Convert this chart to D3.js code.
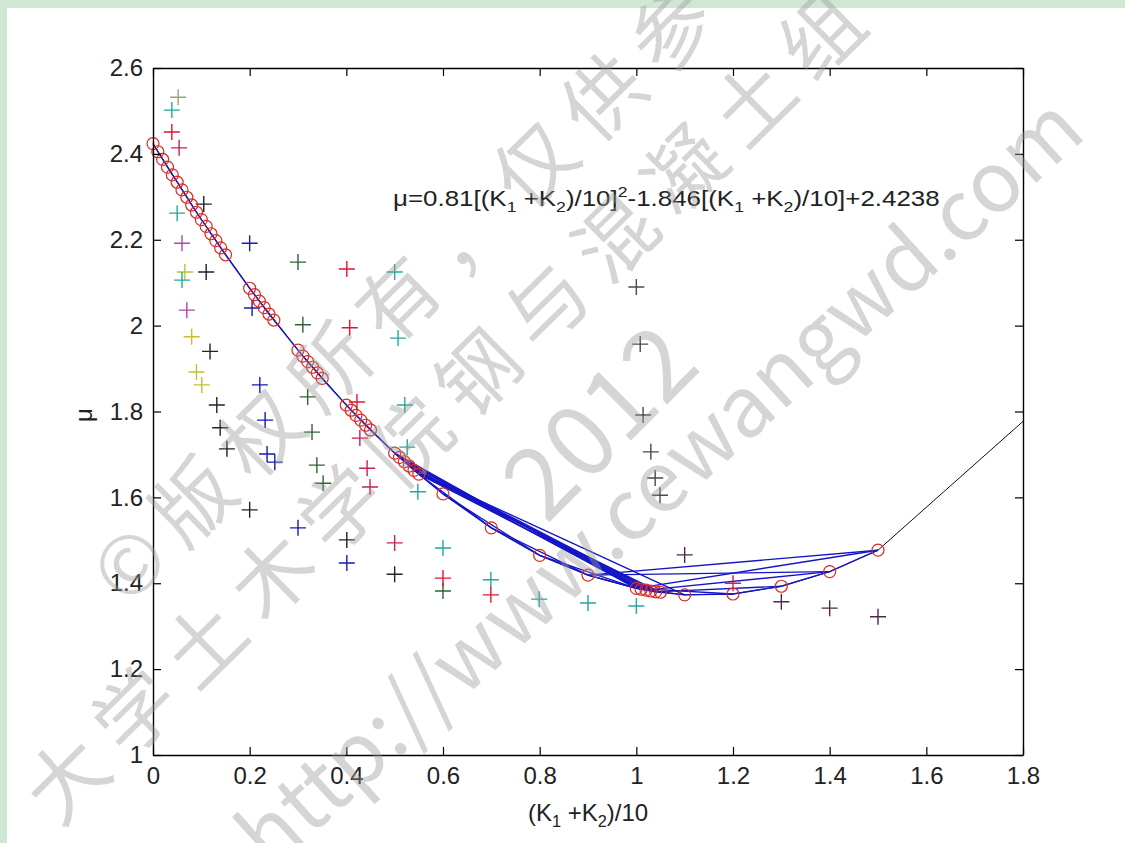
<!DOCTYPE html>
<html>
<head>
<meta charset="utf-8">
<script src="https://cdn.jsdelivr.net/npm/d3@7"></script>
<style>
    html, body { margin: 0; padding: 0; background: #fff; }
    svg { display: block; }
    text { font-family: "Liberation Sans", Arial, sans-serif; }
</style>
</head>
<body>
<svg id="chart" width="1125" height="843"></svg>
<script>
// tick labels
var xTicks = [0, 0.2, 0.4, 0.6, 0.8, 1, 1.2, 1.4, 1.6, 1.8];
var xTickLabels = ["0", "0.2", "0.4", "0.6", "0.8", "1", "1.2", "1.4", "1.6", "1.8"];
var yTicks = [1, 1.2, 1.4, 1.6, 1.8, 2, 2.2, 2.4, 2.6];
var yTickLabels = ["1", "1.2", "1.4", "1.6", "1.8", "2", "2.2", "2.4", "2.6"];

// fitted curve (black line)
var fitX = [0, 0.1, 0.2, 0.3, 0.4, 0.5, 0.6, 0.7, 0.8, 0.9, 1.0, 1.1, 1.2, 1.3, 1.4, 1.5, 1.8];
var fitY = [2.424, 2.247, 2.087, 1.943, 1.815, 1.703, 1.608, 1.529, 1.465, 1.419, 1.388, 1.373, 1.375, 1.393, 1.427, 1.477, 1.777];

// red circles on the curve
var circleX = [0, 0.01, 0.02, 0.03, 0.04, 0.05, 0.06, 0.07, 0.08, 0.09, 0.10, 0.11, 0.12, 0.13, 0.14, 0.15,
    0.20, 0.21, 0.22, 0.23, 0.24, 0.25,
    0.30, 0.31, 0.32, 0.33, 0.34, 0.35,
    0.40, 0.41, 0.42, 0.43, 0.44, 0.45,
    0.50, 0.51, 0.52, 0.53, 0.54, 0.55,
    0.60, 0.70, 0.80, 0.90,
    1.00, 1.01, 1.02, 1.03, 1.04, 1.05,
    1.10, 1.20, 1.30, 1.40, 1.50];
var circleY = [2.424, 2.405, 2.387, 2.369, 2.351, 2.334, 2.316, 2.299, 2.281, 2.264, 2.247, 2.231, 2.214, 2.198, 2.181, 2.165,
    2.087, 2.072, 2.057, 2.042, 2.027, 2.013,
    1.943, 1.929, 1.916, 1.903, 1.890, 1.877,
    1.815, 1.803, 1.791, 1.780, 1.768, 1.757,
    1.703, 1.693, 1.683, 1.673, 1.663, 1.654,
    1.608, 1.529, 1.465, 1.419,
    1.388, 1.386, 1.384, 1.382, 1.380, 1.379,
    1.373, 1.375, 1.393, 1.427, 1.477];

// blue polylines, as lists of circle x values
var blueRoutes = [
    circleX,
    [0.50, 1.00], [0.51, 1.01], [0.52, 1.02], [0.53, 1.03], [0.54, 1.04], [0.55, 1.05],
    [0.53, 1.00], [0.55, 1.02], [0.52, 1.04], [0.54, 1.01],
    [0.55, 0.70, 0.90, 1.00], [0.60, 0.80, 1.00], [0.54, 1.10],
    [0.90, 1.50], [0.90, 1.40], [1.00, 1.50], [1.02, 1.40], [1.04, 1.30], [1.00, 1.20]
];

// "+" markers by colour
var tealPts = [[0.039, 2.502], [0.05, 2.262], [0.06, 2.106], [0.5, 2.125], [0.507, 1.971], [0.521, 1.815],
    [0.526, 1.717], [0.548, 1.613], [0.6, 1.482], [0.699, 1.408], [0.799, 1.363], [0.9, 1.354], [1.0, 1.347]];
var redPts = [[0.039, 2.451], [0.401, 2.132], [0.407, 1.995], [0.422, 1.822], [0.6, 1.412], [0.699, 1.373]];
var crimsonPts = [[0.054, 2.414], [0.428, 1.738], [0.443, 1.668], [0.449, 1.624], [0.5, 1.494], [1.2, 1.40]];
var purplePts = [[0.06, 2.192], [0.07, 2.036]];
var plumPts = [[1.1, 1.466], [1.3, 1.357], [1.4, 1.342], [1.5, 1.322]];
var yellowPts = [[0.066, 2.125], [0.08, 1.974], [0.09, 1.892], [0.101, 1.862]];
var olivePts = [[0.052, 2.532]];
var blackPts = [[0.105, 2.283], [0.11, 2.125], [0.118, 1.94], [0.132, 1.815], [0.139, 1.762], [0.153, 1.713],
    [0.2, 1.571], [0.401, 1.501], [0.5, 1.421]];
var grayPts = [[1.0, 2.09], [1.008, 1.957], [1.014, 1.792], [1.03, 1.706], [1.039, 1.645], [1.049, 1.605]];
var bluePts = [[0.2, 2.192], [0.205, 2.041], [0.221, 1.862], [0.232, 1.78], [0.236, 1.701], [0.252, 1.682],
    [0.3, 1.529], [0.401, 1.447]];
var greenPts = [[0.3, 2.148], [0.31, 2.002], [0.32, 1.834], [0.329, 1.752], [0.339, 1.675], [0.352, 1.633],
    [0.6, 1.382]];

var watermarkLines = ["©版权所有，仅供参考", "大学土木学院钢与混凝土组", "2012", "http://www.cewangwd.com"];

var W = 1125, H = 843;
var svg = d3.select("#chart");

svg.append("rect").attr("width", W).attr("height", H).attr("fill", "#cfe8d3");
svg.append("rect").attr("x", 7).attr("y", 8).attr("width", W - 7).attr("height", H - 8).attr("fill", "#fff");

var x = d3.scaleLinear().domain([0, 1.8]).range([153, 1023]);
var y = d3.scaleLinear().domain([1, 2.6]).range([755, 68]);

var plot = svg.append("g");
var line = d3.line().x(function (d) { return x(d[0]); }).y(function (d) { return y(d[1]); });

// black curve
plot.append("path")
    .datum(d3.zip(fitX, fitY))
    .attr("d", line)
    .attr("fill", "none")
    .attr("stroke", "#111")
    .attr("stroke-width", 1);

// blue lines
var lookup = new Map(circleX.map(function (v, i) { return [v.toFixed(2), circleY[i]]; }));
blueRoutes.forEach(function (r) {
    plot.append("path")
        .datum(r.map(function (v) { return [v, lookup.get(v.toFixed(2))]; }))
        .attr("d", line)
        .attr("fill", "none")
        .attr("stroke", "#1515c8")
        .attr("stroke-width", 1.4);
});

// plus markers
var plusGroups = [
    [blackPts, "#222"], [grayPts, "#4a4a4a"], [greenPts, "#2e6434"], [bluePts, "#1a1ab4"],
    [yellowPts, "#c4c032"], [olivePts, "#a89e74"], [purplePts, "#b048b0"], [plumPts, "#4a2a48"],
    [tealPts, "#22aa9c"], [redPts, "#e4142c"], [crimsonPts, "#c82058"]
];
plusGroups.forEach(function (g) {
    plot.selectAll(null)
        .data(g[0])
        .enter().append("path")
        .attr("d", "M-8,0H8M0,-8V8")
        .attr("transform", function (d) { return "translate(" + x(d[0]) + "," + y(d[1]) + ")"; })
        .attr("stroke", g[1])
        .attr("stroke-width", 1.4)
        .attr("fill", "none");
});

// circles
plot.selectAll(null)
    .data(d3.zip(circleX, circleY))
    .enter().append("circle")
    .attr("cx", function (d) { return x(d[0]); })
    .attr("cy", function (d) { return y(d[1]); })
    .attr("r", 6)
    .attr("fill", "none")
    .attr("stroke", "#dc2a22")
    .attr("stroke-width", 1.2);

// axes
function styleAxis(g) {
    g.selectAll("path.domain").attr("stroke", "#000").attr("stroke-width", 1.4);
    g.selectAll(".tick line").attr("stroke", "#000").attr("stroke-width", 1.2);
    g.selectAll(".tick text").attr("fill", "#222").style("font-size", "24px")
        .style("font-family", "'Liberation Sans', Arial, sans-serif");
}

svg.append("g").attr("transform", "translate(0,755)")
    .call(d3.axisBottom(x).tickValues(xTicks).tickSize(-8).tickSizeOuter(0).tickPadding(12)
        .tickFormat(function (d, i) { return xTickLabels[i]; }))
    .call(styleAxis);
svg.append("g").attr("transform", "translate(0,68)")
    .call(d3.axisTop(x).tickValues(xTicks).tickSize(-8).tickSizeOuter(0).tickFormat(""))
    .call(styleAxis);
svg.append("g").attr("transform", "translate(153,0)")
    .call(d3.axisLeft(y).tickValues(yTicks).tickSize(-8).tickSizeOuter(0).tickPadding(10)
        .tickFormat(function (d, i) { return yTickLabels[i]; }))
    .call(styleAxis);
svg.append("g").attr("transform", "translate(1023,0)")
    .call(d3.axisRight(y).tickValues(yTicks).tickSize(-8).tickSizeOuter(0).tickFormat(""))
    .call(styleAxis);

// rich text with sub / superscripts
function richText(parent, parts, size) {
    var t = parent.append("text").style("font-size", size + "px").attr("fill", "#222");
    var shift = 0;
    parts.forEach(function (p) {
        var target = p[1] === 1 ? 6 : (p[1] === -1 ? -9 : 0);
        t.append("tspan")
            .attr("dy", target - shift)
            .style("font-size", (p[1] ? size * 0.68 : size) + "px")
            .text(p[0]);
        shift = target;
    });
    return t;
}

// fitted formula
var formula = svg.append("g");
var ft = richText(formula, [
    ["μ=0.81[(K", 0], ["1", 1], [" +K", 0], ["2", 1], [")/10]", 0], ["2", -1],
    ["-1.846[(K", 0], ["1", 1], [" +K", 0], ["2", 1], [")/10]+2.4238", 0]
], 22);
var fw = ft.node().getBBox().width;
formula.attr("transform", "translate(393,206) scale(" + (547 / fw) + ",1)");

// x axis label
var xl = svg.append("g");
var xt = richText(xl, [["(K", 0], ["1", 1], [" +K", 0], ["2", 1], [")/10", 0]], 24);
var xw = xt.node().getBBox().width;
xl.attr("transform", "translate(" + (588 - xw / 2) + ",821)");

// y axis label
svg.append("text")
    .attr("transform", "translate(92,415) rotate(-90)")
    .attr("text-anchor", "middle")
    .attr("fill", "#222")
    .style("font-size", "24px")
    .text("μ");

// watermark
var wmLayout = [
    { cx: 438, cy: 262, rot: -44.6, size: 80, len: 930 },
    { cx: 445, cy: 408, rot: -44.6, size: 80, len: 1140 },
    { cx: 600, cy: 422, rot: -45, size: 100, len: 0 },
    { cx: 660, cy: 482, rot: -42, size: 84, len: 1100 }
];
var wm = svg.append("g").attr("pointer-events", "none");
watermarkLines.forEach(function (s, i) {
    var l = wmLayout[i];
    var t = wm.append("text")
        .attr("transform", "translate(" + l.cx + "," + l.cy + ") rotate(" + l.rot + ")")
        .attr("text-anchor", "middle")
        .attr("dy", "0.35em")
        .attr("fill", "#9a9a9a")
        .attr("fill-opacity", 0.42)
        .style("font-family", "'Noto Sans CJK SC', 'Noto Sans', sans-serif")
        .style("font-size", l.size + "px")
        .text(s);
    if (l.len) t.attr("textLength", l.len).attr("lengthAdjust", "spacing");
});
</script>
</body>
</html>
